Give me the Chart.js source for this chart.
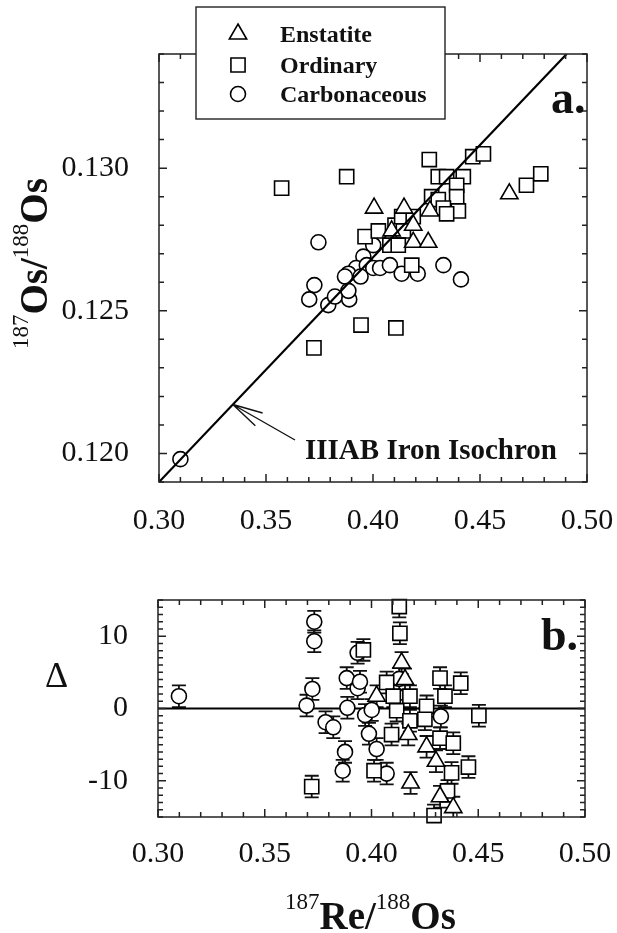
<!DOCTYPE html>
<html>
<head>
<meta charset="utf-8">
<script src="https://cdn.jsdelivr.net/npm/chart.js@4.4.1/dist/chart.umd.min.js"></script>
<style>
  html, body { margin: 0; padding: 0; background: #fff; }
  #wrap { position: relative; width: 617px; height: 933px; }
  #wrap canvas { position: absolute; left: 0; }
  #isoChart { top: 0; }
  #deltaChart { top: 560px; }
</style>
</head>
<body>
<div id="wrap">
  <canvas id="isoChart" width="617" height="560"></canvas>
  <canvas id="deltaChart" width="617" height="373"></canvas>
</div>
<script>
// --- panel a: 187Os/188Os vs 187Re/188Os ---
const enstatiteRe = [0.4005, 0.4145, 0.4266, 0.4188, 0.4188, 0.4258, 0.4087, 0.4637];
const enstatiteOs = [0.1286, 0.1286, 0.1285, 0.1280, 0.1274, 0.1274, 0.1278, 0.1291];

const ordinaryRe = [0.3573, 0.3877, 0.4263, 0.4466, 0.4516, 0.3944, 0.4107, 0.3724,
  0.4305, 0.4344, 0.4422, 0.4391, 0.4274, 0.4305, 0.4391, 0.4329, 0.4399, 0.4344,
  0.3963, 0.4025, 0.4103, 0.4134, 0.4188, 0.4142, 0.4079, 0.4118, 0.4181, 0.4717, 0.4784];
const ordinaryOs = [0.1293, 0.1297, 0.1303, 0.1304, 0.1305, 0.1245, 0.1244, 0.1237,
  0.1297, 0.1297, 0.1297, 0.1294, 0.1290, 0.1289, 0.1290, 0.1286, 0.1285, 0.1284,
  0.1276, 0.1278, 0.1280, 0.1283, 0.1283, 0.1278, 0.1273, 0.1273, 0.1266, 0.1294, 0.1298];

const carbonRe = [0.3100, 0.3745, 0.4001, 0.3955, 0.3921, 0.3885, 0.3869, 0.3971, 0.4001,
  0.4033, 0.4079, 0.4134, 0.4209, 0.4329, 0.4411, 0.3942, 0.3726, 0.3702, 0.3791, 0.3822,
  0.3889, 0.3885];
const carbonOs = [0.1198, 0.1274, 0.1273, 0.1269, 0.1265, 0.1263, 0.1262, 0.1266, 0.1265,
  0.1265, 0.1266, 0.1263, 0.1263, 0.1266, 0.1261, 0.1262, 0.1259, 0.1254, 0.1252, 0.1255,
  0.1254, 0.1257];

// IIIAB iron isochron end points
const isochronRe = [0.30, 0.4905];
const isochronOs = [0.119, 0.134];

// --- panel b: deviation from the isochron ---
const enstatiteDRe = [0.4141, 0.4157, 0.4024, 0.4172, 0.4258, 0.4302, 0.4183, 0.4321, 0.4383];
const enstatiteDelta = [6.3, 4.0, 1.7, -3.6, -5.3, -7.3, -10.3, -12.2, -13.7];

const ordinaryDRe = [0.4130, 0.4133, 0.3962, 0.4071, 0.4102, 0.4180, 0.4118, 0.4180, 0.4258,
  0.4250, 0.4321, 0.4344, 0.4418, 0.4503, 0.4094, 0.4321, 0.4383, 0.4454, 0.4375, 0.4012,
  0.3720, 0.4356, 0.4293];
const ordinaryDelta = [14.1, 10.4, 8.1, 3.6, 1.7, 1.7, -0.3, -1.7, 0.3,
  -1.5, 4.2, 1.7, 3.5, -1.0, -3.6, -4.1, -4.8, -8.1, -8.9, -8.6,
  -10.8, -11.4, -14.8];

const carbonDRe = [0.3098, 0.3732, 0.3732, 0.3723, 0.3696, 0.3785, 0.3821, 0.3876, 0.3865,
  0.3884, 0.3887, 0.3935, 0.3935, 0.3946, 0.3970, 0.4001, 0.3988, 0.4024, 0.4071, 0.4130, 0.4325];
const carbonDelta = [1.7, 12.0, 9.3, 2.7, 0.4, -1.9, -2.6, -6.0, -8.6,
  4.2, 0.1, 7.7, 2.8, 3.7, -0.9, -0.2, -3.5, -5.6, -9.0, 4.1, -1.1];

const deltaErr = 1.5;
const zeroRe = [0.30, 0.50];
const zeroDelta = [0, 0];

// labelled ticks
const reTicks = [0.30, 0.35, 0.40, 0.45, 0.50];
const osTicks = [0.120, 0.125, 0.130];
const deltaTicks = [-10, 0, 10];

const SERIF = '"Liberation Serif", "Times New Roman", serif';
Chart.defaults.font.family = SERIF;
Chart.defaults.color = '#111';

const toPoints = (xs, ys) => xs.map((x, i) => ({ x, y: ys[i] }));
const pickLabel = (list, digits) => (v) =>
  list.some(t => Math.abs(t - v) < 1e-9) ? (digits == null ? String(v) : v.toFixed(digits)) : '';

const markers = {
  Enstatite: { pointStyle: 'triangle', pointRadius: 10 },
  Ordinary: { pointStyle: 'rect', pointRadius: 10 },
  Carbonaceous: { pointStyle: 'circle', pointRadius: 7.5 },
};

const scatterSet = (label, data, extra) => Object.assign({
  label,
  data,
  pointStyle: markers[label].pointStyle,
  pointRadius: markers[label].pointRadius,
  pointHoverRadius: markers[label].pointRadius,
  pointBackgroundColor: '#fff',
  pointBorderColor: '#000',
  pointBorderWidth: 1.6,
  order: 2,
}, extra || {});

// keep the x axis from widening the side margins for its end labels
const xFit = (h) => (s) => { s.height = h; s.paddingLeft = 0; s.paddingRight = 0; };

// frame around the plot area with inward ticks on all four sides
const frameTicks = {
  id: 'frameTicks',
  afterDatasetsDraw(chart) {
    const { ctx, chartArea: a, scales: { x, y } } = chart;
    ctx.save();
    ctx.strokeStyle = '#222';
    ctx.lineWidth = 1.5;
    ctx.strokeRect(a.left, a.top, a.right - a.left, a.bottom - a.top);
    ctx.beginPath();
    x.ticks.forEach(t => {
      const px = x.getPixelForValue(t.value);
      const len = t.label ? 8 : 5;
      ctx.moveTo(px, a.bottom); ctx.lineTo(px, a.bottom - len);
      ctx.moveTo(px, a.top); ctx.lineTo(px, a.top + len);
    });
    y.ticks.forEach(t => {
      const py = y.getPixelForValue(t.value);
      const len = t.label ? 8 : 5;
      ctx.moveTo(a.left, py); ctx.lineTo(a.left + len, py);
      ctx.moveTo(a.right, py); ctx.lineTo(a.right - len, py);
    });
    ctx.stroke();
    ctx.restore();
  }
};

function drawMarker(ctx, style, radius, x, y) {
  ctx.fillStyle = '#fff';
  ctx.strokeStyle = '#000';
  ctx.lineWidth = 1.6;
  if (Chart.helpers && Chart.helpers.drawPoint) {
    Chart.helpers.drawPoint(ctx, { pointStyle: style, radius, rotation: 0, borderWidth: 1.6 }, x, y);
    return;
  }
  ctx.beginPath();
  if (style === 'circle') ctx.arc(x, y, radius, 0, Math.PI * 2);
  else if (style === 'rect') { const s = radius * Math.SQRT1_2; ctx.rect(x - s, y - s, 2 * s, 2 * s); }
  else {
    ctx.moveTo(x, y - radius);
    ctx.lineTo(x + radius * Math.sin(2 * Math.PI / 3), y + radius / 2);
    ctx.lineTo(x - radius * Math.sin(2 * Math.PI / 3), y + radius / 2);
    ctx.closePath();
  }
  ctx.fill();
  ctx.stroke();
}

// text with superscript mass numbers, e.g. [['187', true], ['Os', false], ...]
function drawIsotopeText(ctx, parts, x, y, bigFont, supFont, rise) {
  let cx = x;
  parts.forEach(([txt, sup]) => {
    ctx.font = sup ? supFont : bigFont;
    ctx.fillText(txt, cx, sup ? y - rise : y);
    cx += ctx.measureText(txt).width;
  });
}

const isoDecor = {
  id: 'isoDecor',
  afterDraw(chart) {
    const { ctx, scales: { x, y } } = chart;
    ctx.save();
    ctx.fillStyle = '#111';
    ctx.textBaseline = 'alphabetic';
    ctx.textAlign = 'left';

    // legend box
    ctx.fillStyle = '#fff';
    ctx.fillRect(196, 7, 249, 112);
    ctx.strokeStyle = '#222';
    ctx.lineWidth = 1.4;
    ctx.strokeRect(196, 7, 249, 112);
    const rows = [34, 65, 94];
    chart.data.datasets.filter(d => markers[d.label]).forEach((d, i) => {
      drawMarker(ctx, d.pointStyle, d.pointRadius, 238, rows[i]);
      ctx.fillStyle = '#111';
      ctx.font = 'bold 24px ' + SERIF;
      ctx.fillText(d.label, 280, rows[i] + 8);
    });

    // panel letter
    ctx.fillStyle = '#111';
    ctx.font = 'bold 46px ' + SERIF;
    ctx.fillText('a.', 551, 113);

    // isochron label with arrow onto the line
    ctx.font = 'bold 29px ' + SERIF;
    ctx.fillText('IIIAB Iron Isochron', 305, 459);
    const tipRe = 0.3345;
    const tipOs = isochronOs[0] + (tipRe - isochronRe[0]) *
      (isochronOs[1] - isochronOs[0]) / (isochronRe[1] - isochronRe[0]);
    const tx = x.getPixelForValue(tipRe), ty = y.getPixelForValue(tipOs);
    const sx = 295, sy = 440;
    const ang = Math.atan2(sy - ty, sx - tx);
    ctx.strokeStyle = '#111';
    ctx.lineWidth = 1.4;
    ctx.beginPath();
    ctx.moveTo(sx, sy); ctx.lineTo(tx, ty);
    [-0.24, 0.24].forEach(da => {
      ctx.moveTo(tx, ty);
      ctx.lineTo(tx + 31 * Math.cos(ang + da), ty + 31 * Math.sin(ang + da));
    });
    ctx.stroke();

    // rotated y title
    ctx.translate(47, 349);
    ctx.rotate(-Math.PI / 2);
    drawIsotopeText(ctx, [['187', true], ['Os/', false], ['188', true], ['Os', false]],
      0, 0, 'bold 39px ' + SERIF, '23px ' + SERIF, 19);
    ctx.restore();
  }
};

new Chart(document.getElementById('isoChart'), {
  type: 'scatter',
  data: {
    datasets: [
      {
        label: 'IIIAB Iron Isochron',
        data: toPoints(isochronRe, isochronOs),
        showLine: true,
        borderColor: '#000',
        borderWidth: 2.2,
        pointRadius: 0,
        order: 0,
      },
      scatterSet('Enstatite', toPoints(enstatiteRe, enstatiteOs), { order: 1 }),
      scatterSet('Ordinary', toPoints(ordinaryRe, ordinaryOs), { order: 2 }),
      scatterSet('Carbonaceous', toPoints(carbonRe, carbonOs), { order: 3 }),
    ]
  },
  options: {
    responsive: false,
    animation: false,
    layout: { padding: { top: 54, right: 30, left: 0, bottom: 0 } },
    plugins: { legend: { display: false }, tooltip: { enabled: false } },
    scales: {
      x: {
        type: 'linear', min: 0.30, max: 0.50,
        grid: { display: false }, border: { display: false },
        ticks: { stepSize: 0.01, autoSkip: false, maxRotation: 0, padding: 13,
          font: { size: 30 }, callback: pickLabel(reTicks, 2) },
        afterFit: xFit(78),
      },
      y: {
        type: 'linear', min: 0.119, max: 0.134,
        grid: { display: false }, border: { display: false },
        ticks: { stepSize: 0.001, autoSkip: false, padding: 22,
          font: { size: 30 }, callback: pickLabel(osTicks, 3) },
        afterFit: (s) => { s.width = 159; },
      }
    }
  },
  plugins: [frameTicks, isoDecor]
});

// vertical error bars with caps, drawn under the markers
const errorBars = {
  id: 'errorBars',
  beforeDatasetsDraw(chart) {
    const { ctx, chartArea: a, scales: { y } } = chart;
    ctx.save();
    ctx.beginPath();
    ctx.rect(a.left, a.top, a.right - a.left, a.bottom - a.top);
    ctx.clip();
    ctx.strokeStyle = '#111';
    ctx.lineWidth = 1.8;
    chart.data.datasets.forEach((ds, i) => {
      if (!ds.err) return;
      chart.getDatasetMeta(i).data.forEach((pt, j) => {
        const v = ds.data[j].y;
        const hi = y.getPixelForValue(v + ds.err), lo = y.getPixelForValue(v - ds.err);
        ctx.beginPath();
        ctx.moveTo(pt.x, hi); ctx.lineTo(pt.x, lo);
        ctx.moveTo(pt.x - 7, hi); ctx.lineTo(pt.x + 7, hi);
        ctx.moveTo(pt.x - 7, lo); ctx.lineTo(pt.x + 7, lo);
        ctx.stroke();
      });
    });
    ctx.restore();
  }
};

const deltaDecor = {
  id: 'deltaDecor',
  afterDraw(chart) {
    const { ctx } = chart;
    ctx.save();
    ctx.fillStyle = '#111';
    ctx.textAlign = 'left';
    ctx.textBaseline = 'alphabetic';
    ctx.font = 'bold 46px ' + SERIF;
    ctx.fillText('b.', 541, 90);
    ctx.font = '36px ' + SERIF;
    ctx.fillText('\u0394', 45, 127);
    drawIsotopeText(ctx, [['187', true], ['Re/', false], ['188', true], ['Os', false]],
      285, 369, 'bold 39px ' + SERIF, '23px ' + SERIF, 20);
    ctx.restore();
  }
};

new Chart(document.getElementById('deltaChart'), {
  type: 'scatter',
  data: {
    datasets: [
      scatterSet('Enstatite', toPoints(enstatiteDRe, enstatiteDelta), { order: 1, err: deltaErr, clip: false }),
      scatterSet('Ordinary', toPoints(ordinaryDRe, ordinaryDelta), { order: 2, err: deltaErr, clip: false }),
      scatterSet('Carbonaceous', toPoints(carbonDRe, carbonDelta), { order: 3, err: deltaErr, clip: false }),
      {
        label: 'zero',
        data: toPoints(zeroRe, zeroDelta),
        showLine: true,
        borderColor: '#000',
        borderWidth: 2.2,
        pointRadius: 0,
        order: 4,
      },
    ]
  },
  options: {
    responsive: false,
    animation: false,
    layout: { padding: { top: 40, right: 32, left: 0, bottom: 0 } },
    plugins: { legend: { display: false }, tooltip: { enabled: false } },
    scales: {
      x: {
        type: 'linear', min: 0.30, max: 0.50,
        grid: { display: false }, border: { display: false },
        ticks: { stepSize: 0.01, autoSkip: false, maxRotation: 0, padding: 11,
          font: { size: 30 }, callback: pickLabel(reTicks, 2) },
        afterFit: xFit(116),
      },
      y: {
        type: 'linear', min: -15, max: 15,
        grid: { display: false }, border: { display: false },
        ticks: { stepSize: 1, autoSkip: false, padding: 22,
          font: { size: 30 }, callback: pickLabel(deltaTicks) },
        afterFit: (s) => { s.width = 158; },
      }
    }
  },
  plugins: [frameTicks, errorBars, deltaDecor]
});
</script>
</body>
</html>
